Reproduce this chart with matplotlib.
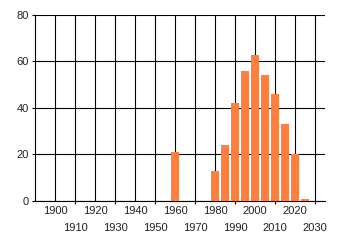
import numpy as np
from matplotlib import pyplot as plt
from matplotlib.ticker import MultipleLocator

years = [1960, 1980, 1985, 1990, 1995, 2000, 2005, 2010, 2015, 2020, 2025]
counts = [21, 13, 24, 42, 56, 63, 54, 46, 33, 20, 1]
major_labels = [1900, 1920, 1940, 1960, 1980, 2000, 2020]
minor_labels = [1910, 1930, 1950, 1970, 1990, 2010, 2030]

plt.rcParams['font.family'] = ['Liberation Sans', 'DejaVu Sans']
plt.rcParams['font.size'] = 8

fig = plt.figure(figsize=(3.4, 2.45), dpi=100)
ax = fig.add_axes([0.104, 0.1796, 0.852, 0.7592])

ax.bar(years, counts, width=4, color='#ff7f40', zorder=3)

ax.set_xlim(1890, 2035)
ax.set_ylim(0, 80)
ax.yaxis.set_major_locator(MultipleLocator(20))
ax.set_xticks(major_labels)
ax.set_xticklabels([str(v) for v in major_labels])
ax.set_xticks(minor_labels, minor=True)
ax.set_xticklabels([str(v) for v in minor_labels], minor=True)

ax.grid(True, which='both', axis='x', color='black', linewidth=0.8, zorder=0)
ax.grid(True, which='major', axis='y', color='black', linewidth=0.8, zorder=0)
ax.set_axisbelow(True)

for side in ['top', 'right']:
    ax.spines[side].set_visible(False)
for side in ['left', 'bottom']:
    ax.spines[side].set_color('black')
    ax.spines[side].set_linewidth(0.8)

ax.tick_params(axis='x', which='major', length=0, pad=3.5, colors='black')
ax.tick_params(axis='x', which='minor', length=2.5, width=0.8, pad=13, colors='black')
ax.tick_params(axis='y', length=2.5, width=0.8, pad=2, colors='black')
for lbl in ax.get_xticklabels(which='both') + ax.get_yticklabels():
    lbl.set_color('#222222')

plt.savefig('out.png', dpi=100)
